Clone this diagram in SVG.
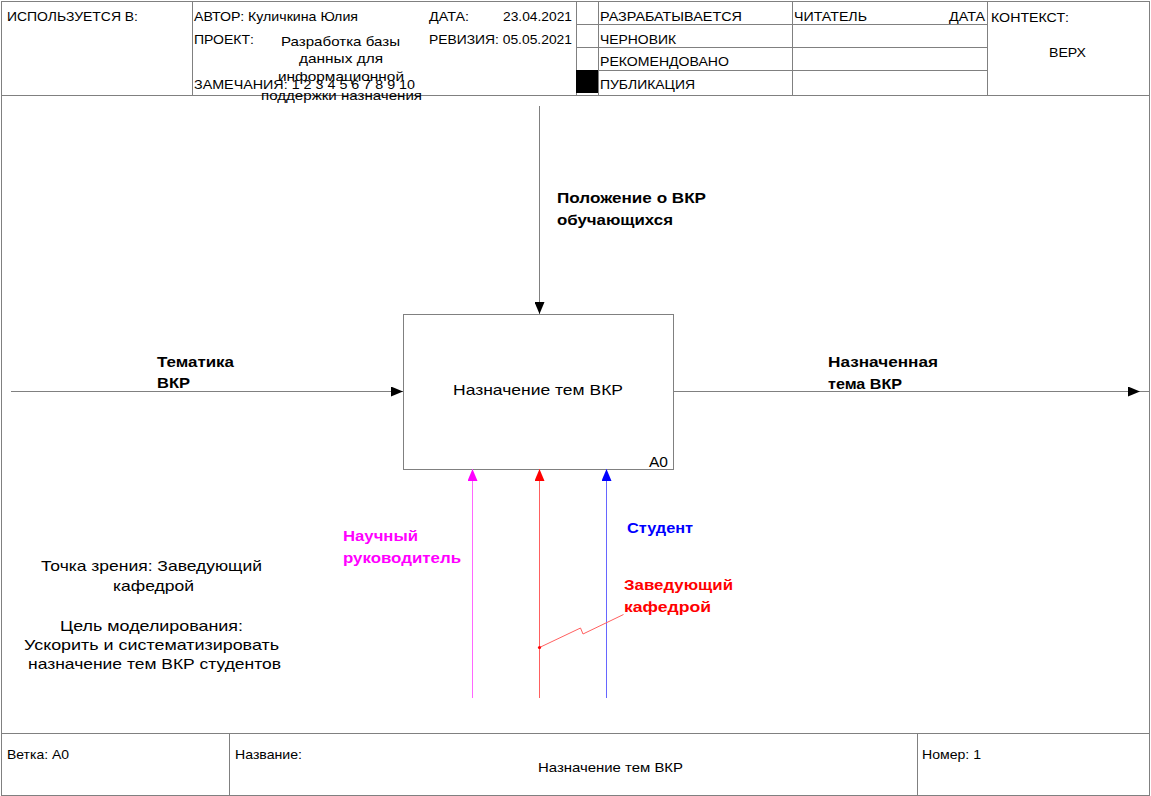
<svg xmlns="http://www.w3.org/2000/svg" width="1151" height="796" viewBox="0 0 1151 796">
<style>
.frame{fill:none;stroke:#808080;stroke-width:1}
.t{font-family:"Liberation Sans",Arial,sans-serif;font-size:13px;fill:#000}
.n{font-family:"Liberation Sans",Arial,sans-serif;font-size:15px;fill:#000}
.b{font-family:"Liberation Sans",Arial,sans-serif;font-size:15px;font-weight:bold}
.ln{fill:none;stroke:#808080;stroke-width:1}
</style>
<defs>
<marker id="ak" markerUnits="userSpaceOnUse" markerWidth="12" markerHeight="10" refX="12" refY="5" orient="auto"><path d="M0,0 L12,5 L0,10 Z" fill="#000"/></marker>
<marker id="am" markerUnits="userSpaceOnUse" markerWidth="12" markerHeight="10" refX="12" refY="5" orient="auto"><path d="M0,0 L12,5 L0,10 Z" fill="#ff00ff"/></marker>
<marker id="ar" markerUnits="userSpaceOnUse" markerWidth="12" markerHeight="10" refX="12" refY="5" orient="auto"><path d="M0,0 L12,5 L0,10 Z" fill="#ff0000"/></marker>
<marker id="ab" markerUnits="userSpaceOnUse" markerWidth="12" markerHeight="10" refX="12" refY="5" orient="auto"><path d="M0,0 L12,5 L0,10 Z" fill="#0000ff"/></marker>
</defs>
<rect width="1151" height="796" fill="#fff"/>
<g id="frame">
<rect class="frame" x="1.5" y="1.5" width="1148" height="794"/>
<line class="frame" x1="1" y1="95.5" x2="1150" y2="95.5"/>
<line class="frame" x1="192.5" y1="1" x2="192.5" y2="95"/>
<line class="frame" x1="576.5" y1="1" x2="576.5" y2="95"/>
<line class="frame" x1="598.5" y1="1" x2="598.5" y2="95"/>
<line class="frame" x1="792.5" y1="1" x2="792.5" y2="95"/>
<line class="frame" x1="987.5" y1="1" x2="987.5" y2="95"/>
<line class="frame" x1="576" y1="24.5" x2="987" y2="24.5"/>
<line class="frame" x1="576" y1="47.5" x2="987" y2="47.5"/>
<line class="frame" x1="576" y1="70.5" x2="987" y2="70.5"/>
<rect x="576" y="70" width="22" height="23" fill="#000"/>
<line class="frame" x1="1" y1="733.5" x2="1150" y2="733.5"/>
<line class="frame" x1="229.5" y1="733" x2="229.5" y2="795"/>
<line class="frame" x1="917.5" y1="733" x2="917.5" y2="795"/>
<text class="t" x="7" y="21" textLength="131" lengthAdjust="spacingAndGlyphs">ИСПОЛЬЗУЕТСЯ В:</text>
<text class="t" x="194" y="21" textLength="164" lengthAdjust="spacingAndGlyphs">АВТОР: Куличкина Юлия</text>
<text class="t" x="429" y="21" textLength="40" lengthAdjust="spacingAndGlyphs">ДАТА:</text>
<text class="t" x="503" y="21" textLength="69" lengthAdjust="spacingAndGlyphs">23.04.2021</text>
<text class="t" x="194" y="44" textLength="60" lengthAdjust="spacingAndGlyphs">ПРОЕКТ:</text>
<text class="t" x="429" y="44" textLength="143" lengthAdjust="spacingAndGlyphs">РЕВИЗИЯ: 05.05.2021</text>
<text class="t" x="194" y="89" textLength="221" lengthAdjust="spacingAndGlyphs">ЗАМЕЧАНИЯ: 1 2 3 4 5 6 7 8 9 10</text>
<text class="t" x="281" y="46" textLength="119" lengthAdjust="spacingAndGlyphs">Разработка базы</text>
<text class="t" x="299" y="63" textLength="84" lengthAdjust="spacingAndGlyphs">данных для</text>
<text class="t" x="278" y="81" textLength="126" lengthAdjust="spacingAndGlyphs">информационной</text>
<text class="t" x="261" y="100" textLength="161" lengthAdjust="spacingAndGlyphs">поддержки назначения</text>
<text class="t" x="600" y="21" textLength="142" lengthAdjust="spacingAndGlyphs">РАЗРАБАТЫВАЕТСЯ</text>
<text class="t" x="600" y="44" textLength="76" lengthAdjust="spacingAndGlyphs">ЧЕРНОВИК</text>
<text class="t" x="600" y="66" textLength="129" lengthAdjust="spacingAndGlyphs">РЕКОМЕНДОВАНО</text>
<text class="t" x="600" y="89" textLength="95" lengthAdjust="spacingAndGlyphs">ПУБЛИКАЦИЯ</text>
<text class="t" x="794" y="21" textLength="73" lengthAdjust="spacingAndGlyphs">ЧИТАТЕЛЬ</text>
<text class="t" x="949" y="21" textLength="36" lengthAdjust="spacingAndGlyphs">ДАТА</text>
<text class="t" x="991" y="22" textLength="78" lengthAdjust="spacingAndGlyphs">КОНТЕКСТ:</text>
<text class="t" x="1049" y="57" textLength="37" lengthAdjust="spacingAndGlyphs">ВЕРХ</text>
<text class="t" x="7" y="759" textLength="62" lengthAdjust="spacingAndGlyphs">Ветка: А0</text>
<text class="t" x="235" y="759" textLength="67" lengthAdjust="spacingAndGlyphs">Название:</text>
<text class="t" x="538" y="772" textLength="145" lengthAdjust="spacingAndGlyphs">Назначение тем ВКР</text>
<text class="t" x="922" y="759" textLength="59" lengthAdjust="spacingAndGlyphs">Номер: 1</text>
</g>
<g id="notes">
<text class="n" x="41" y="571" textLength="221" lengthAdjust="spacingAndGlyphs">Точка зрения: Заведующий</text>
<text class="n" x="113" y="591" textLength="81" lengthAdjust="spacingAndGlyphs">кафедрой</text>
<text class="n" x="60" y="631" textLength="183" lengthAdjust="spacingAndGlyphs">Цель моделирования:</text>
<text class="n" x="24" y="650" textLength="255" lengthAdjust="spacingAndGlyphs">Ускорить и систематизировать</text>
<text class="n" x="28" y="669" textLength="253" lengthAdjust="spacingAndGlyphs">назначение тем ВКР студентов</text>
</g>
<g id="node-A0">
<rect x="403.5" y="314.5" width="270" height="155" fill="#fff" stroke="#808080" stroke-width="1"/>
<text class="n" x="453" y="395" textLength="170" lengthAdjust="spacingAndGlyphs">Назначение тем ВКР</text>
<text class="n" x="649" y="467" textLength="19" lengthAdjust="spacingAndGlyphs">A0</text>
</g>
<g id="connectors">
<line class="ln" x1="539.5" y1="106" x2="539.5" y2="314" marker-end="url(#ak)"/>
<line class="ln" x1="11" y1="391.5" x2="403" y2="391.5" marker-end="url(#ak)"/>
<line class="ln" x1="673" y1="391.5" x2="1140" y2="391.5" marker-end="url(#ak)"/>
<line class="ln" x1="1140" y1="391.5" x2="1149" y2="391.5"/>
<line x1="472.5" y1="698" x2="472.5" y2="469" stroke="#ff66ff" stroke-width="1" marker-end="url(#am)"/>
<line x1="539.5" y1="698" x2="539.5" y2="469" stroke="#ff6060" stroke-width="1" marker-end="url(#ar)"/>
<line x1="606.5" y1="698" x2="606.5" y2="469" stroke="#6666ff" stroke-width="1" marker-end="url(#ab)"/>
<polyline points="539.5,647.5 580.5,628 583,634 623.5,614.5" fill="none" stroke="#ff6060" stroke-width="1"/>
<circle cx="539.5" cy="647.5" r="1.6" fill="#ff0000"/>
</g>
<g id="labels">
<text class="b" x="557" y="203" fill="#000" textLength="149" lengthAdjust="spacingAndGlyphs">Положение о ВКР</text>
<text class="b" x="557" y="225" fill="#000" textLength="116" lengthAdjust="spacingAndGlyphs">обучающихся</text>
<text class="b" x="157" y="367" fill="#000" textLength="77" lengthAdjust="spacingAndGlyphs">Тематика</text>
<text class="b" x="157" y="388" fill="#000" textLength="33" lengthAdjust="spacingAndGlyphs">ВКР</text>
<text class="b" x="828" y="367" fill="#000" textLength="110" lengthAdjust="spacingAndGlyphs">Назначенная</text>
<text class="b" x="828" y="389" fill="#000" textLength="74" lengthAdjust="spacingAndGlyphs">тема ВКР</text>
<text class="b" x="343" y="541" fill="#ff00ff" textLength="75" lengthAdjust="spacingAndGlyphs">Научный</text>
<text class="b" x="343" y="563" fill="#ff00ff" textLength="118" lengthAdjust="spacingAndGlyphs">руководитель</text>
<text class="b" x="627" y="533" fill="#0000ff" textLength="66" lengthAdjust="spacingAndGlyphs">Студент</text>
<text class="b" x="624" y="590" fill="#ff0000" textLength="109" lengthAdjust="spacingAndGlyphs">Заведующий</text>
<text class="b" x="624" y="612" fill="#ff0000" textLength="87" lengthAdjust="spacingAndGlyphs">кафедрой</text>
</g>
</svg>
